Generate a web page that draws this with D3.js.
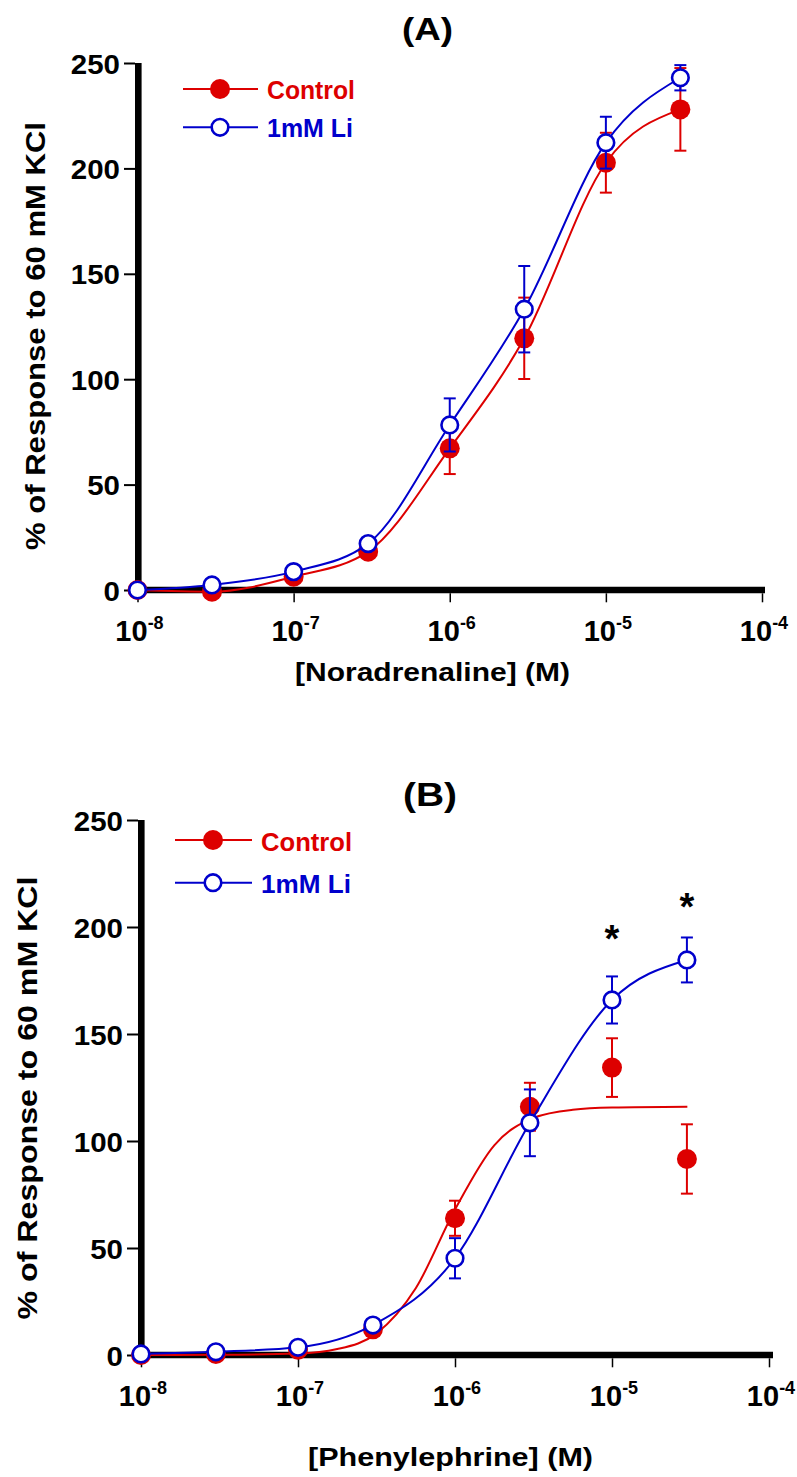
<!doctype html>
<html>
<head>
<meta charset="utf-8">
<script src="https://cdnjs.cloudflare.com/ajax/libs/d3/7.8.5/d3.min.js"></script>
<style>
  body { margin: 0; background: #fff; }
  svg text { font-family: Arial, "Liberation Sans", sans-serif; font-weight: bold; }
</style>
</head>
<body>
<svg id="chart" width="797" height="1477"></svg>
<script>
// shared
var doses = [1e-8, 3e-8, 1e-7, 3e-7, 1e-6, 3e-6, 1e-5, 3e-5];
var yTicks = [0, 50, 100, 150, 200, 250];
var xTicks = [1e-8, 1e-7, 1e-6, 1e-5, 1e-4];
var xTickExp = ["-8", "-7", "-6", "-5", "-4"];
var seriesNames = ["Control", "1mM Li"];

// (A) noradrenaline, mean and SEM
var naControl    = [0, -0.8, 6.3, 18.2, 67.2, 119.4, 202.7, 228];
var naControlSem = [0, 0.5, 1, 2, 12.2, 19.3, 14.2, 19.6];
var naLi         = [0, 2.4, 8.7, 22, 78.3, 133.2, 212.2, 243];
var naLiSem      = [0, 0.5, 1, 2, 12.6, 20.5, 12.3, 6];

// (B) phenylephrine, mean and SEM
var peControl    = [0, 0.5, 2.5, 12, 63.9, 116, 134.3, 91.6];
var peControlSem = [0, 0.5, 1, 2, 8.2, 11.2, 13.7, 16.2];
var peLi         = [0.5, 1.5, 3.6, 14, 45.2, 108.5, 165.9, 184.6];
var peLiSem      = [0, 0.5, 1, 2, 9.4, 15.6, 11, 10.5];

// fitted control curve in (B) (log10 dose, %)
var peControlFitLog = [-8, -7.5, -7, -6.75, -6.5, -6.25, -6, -5.75, -5.5, -5.25, -5, -4.52];
var peControlFit    = [0, 0.1, 0.7, 2.8, 10.1, 31.2, 68, 98, 110.8, 114.6, 115.6, 116];

// significance stars in (B)
var starDoses  = [1e-5, 3e-5];
var starLevels = [198, 213];

var RED = "#dd0000", BLUE = "#0000cc";
var svg = d3.select("#chart");

var panels = [
  { title: "(A)", titleX: 427.5, titleY: 40, titleSize: 32, titleLen: 51,
    xLabel: "[Noradrenaline] (M)", xLabelX: 432.5, xLabelY: 681, xLabelLen: 275,
    yLabelX: 45, yLabelY: 336, yLabelLen: 428,
    xRange: [137.5, 762], axisX: 138.3, axisY: 590, yTop: 63, xEnd: 765,
    legX: [183, 258], legY: [89, 127.3], legMX: 220, legTX: 267, legTY: [99, 137], legLen: [88, 86],
    control: naControl, controlSem: naControlSem, li: naLi, liSem: naLiSem },
  { title: "(B)", titleX: 430, titleY: 806, titleSize: 33, titleLen: 54,
    xLabel: "[Phenylephrine] (M)", xLabelX: 450.5, xLabelY: 1466, xLabelLen: 285,
    yLabelX: 37, yLabelY: 1098, yLabelLen: 443,
    xRange: [141, 769], axisX: 141.3, axisY: 1355, yTop: 820, xEnd: 773,
    legX: [175, 252], legY: [840, 882.7], legMX: 213, legTX: 261, legTY: [851, 893], legLen: [91, 90],
    control: peControl, controlSem: peControlSem, li: peLi, liSem: peLiSem,
    controlFit: true, stars: true }
];

panels.forEach(drawPanel);

function drawPanel(p) {
  var x = d3.scaleLog().domain([1e-8, 1e-4]).range(p.xRange);
  var y = d3.scaleLinear().domain([0, 250]).range([p.axisY, p.yTop]);
  var g = svg.append("g");
  var half = 3.3;

  // y axis ticks + labels
  g.append("g")
    .attr("transform", "translate(" + (p.axisX - half) + ",0)")
    .call(d3.axisLeft(y).tickValues(yTicks).tickSize(11).tickPadding(4).tickSizeOuter(0))
    .call(a => a.select(".domain").remove())
    .call(a => a.selectAll("line").attr("stroke", "#000").attr("stroke-width", 2))
    .call(a => a.selectAll("text").attr("font-size", 28).attr("fill", "#000")
      .attr("font-family", null).attr("dy", "0.36em")
      .attr("textLength", d => String(d).length * 16.4)
      .attr("lengthAdjust", "spacingAndGlyphs"));

  // x axis ticks
  g.append("g")
    .attr("transform", "translate(0," + (p.axisY + half) + ")")
    .call(d3.axisBottom(x).tickValues(xTicks).tickSize(9).tickFormat("").tickSizeOuter(0))
    .call(a => a.select(".domain").remove())
    .call(a => a.selectAll("line").attr("stroke", "#000").attr("stroke-width", 1.5));

  var xl = g.selectAll(".xl").data(xTicks).join("text")
    .attr("class", "xl")
    .attr("x", d => x(d) + 2)
    .attr("y", p.axisY + 51)
    .attr("text-anchor", "middle")
    .attr("font-size", 29);
  xl.append("tspan").text("10");
  xl.append("tspan").attr("dy", -12).attr("font-size", 18).text((d, i) => xTickExp[i]);

  // thick axis lines
  g.append("line")
    .attr("x1", p.axisX).attr("x2", p.axisX)
    .attr("y1", y(250)).attr("y2", p.axisY + half)
    .attr("stroke", "#000").attr("stroke-width", 6.6);
  g.append("line")
    .attr("x1", p.axisX - half).attr("x2", p.xEnd)
    .attr("y1", p.axisY).attr("y2", p.axisY)
    .attr("stroke", "#000").attr("stroke-width", 6.6);

  // titles and axis labels
  g.append("text").text(p.title)
    .attr("x", p.titleX).attr("y", p.titleY).attr("text-anchor", "middle")
    .attr("font-size", p.titleSize)
    .attr("textLength", p.titleLen).attr("lengthAdjust", "spacingAndGlyphs");
  g.append("text").text(p.xLabel)
    .attr("x", p.xLabelX).attr("y", p.xLabelY).attr("text-anchor", "middle")
    .attr("font-size", 26)
    .attr("textLength", p.xLabelLen).attr("lengthAdjust", "spacingAndGlyphs");
  g.append("text").text("% of Response to 60 mM KCl")
    .attr("transform", "translate(" + p.yLabelX + "," + p.yLabelY + ") rotate(-90)")
    .attr("text-anchor", "middle")
    .attr("font-size", 28)
    .attr("textLength", p.yLabelLen).attr("lengthAdjust", "spacingAndGlyphs");

  var line = d3.line()
    .x(d => x(d[0]))
    .y(d => y(d[1]))
    .curve(d3.curveMonotoneX);

  var series = [
    { vals: p.control, sem: p.controlSem, color: RED, filled: true },
    { vals: p.li, sem: p.liSem, color: BLUE, filled: false }
  ];

  series.forEach(function (s, k) {
    var pts = doses.map((d, i) => [d, s.vals[i], s.sem[i]]);
    var sg = g.append("g");

    // error bars
    var eb = sg.selectAll(".eb").data(pts.filter(d => d[2] > 0)).join("g")
      .attr("stroke", s.color).attr("stroke-width", 2);
    eb.append("line")
      .attr("x1", d => x(d[0])).attr("x2", d => x(d[0]))
      .attr("y1", d => y(d[1] - d[2])).attr("y2", d => y(d[1] + d[2]));
    eb.append("line")
      .attr("x1", d => x(d[0]) - 6).attr("x2", d => x(d[0]) + 6)
      .attr("y1", d => y(d[1] + d[2])).attr("y2", d => y(d[1] + d[2]));
    eb.append("line")
      .attr("x1", d => x(d[0]) - 6).attr("x2", d => x(d[0]) + 6)
      .attr("y1", d => y(d[1] - d[2])).attr("y2", d => y(d[1] - d[2]));

    // curve
    var curvePts = (k === 0 && p.controlFit)
      ? peControlFitLog.map((l, i) => [Math.pow(10, l), peControlFit[i]])
      : pts;
    sg.append("path")
      .attr("d", line(curvePts))
      .attr("fill", "none").attr("stroke", s.color).attr("stroke-width", 2);

    // markers
    sg.selectAll(".mk").data(pts).join("circle")
      .attr("cx", d => x(d[0])).attr("cy", d => y(d[1]))
      .attr("r", s.filled ? 10 : 8.3)
      .attr("fill", s.filled ? s.color : "#fff")
      .attr("stroke", s.filled ? "none" : s.color)
      .attr("stroke-width", 2.6);

    // legend
    g.append("line")
      .attr("x1", p.legX[0]).attr("x2", p.legX[1])
      .attr("y1", p.legY[k]).attr("y2", p.legY[k])
      .attr("stroke", s.color).attr("stroke-width", 2);
    g.append("circle")
      .attr("cx", p.legMX).attr("cy", p.legY[k])
      .attr("r", s.filled ? 10 : 8.3)
      .attr("fill", s.filled ? s.color : "#fff")
      .attr("stroke", s.filled ? "none" : s.color)
      .attr("stroke-width", 2.6);
    g.append("text").text(seriesNames[k])
      .attr("x", p.legTX).attr("y", p.legTY[k])
      .attr("font-size", 26).attr("fill", s.color)
      .attr("textLength", p.legLen[k]).attr("lengthAdjust", "spacingAndGlyphs");
  });

  if (p.stars) {
    g.selectAll(".star").data(starDoses).join("text")
      .attr("x", d => x(d))
      .attr("y", (d, i) => y(starLevels[i]) + 21)
      .attr("text-anchor", "middle")
      .attr("font-size", 38)
      .text("*");
  }
}
</script>
</body>
</html>
